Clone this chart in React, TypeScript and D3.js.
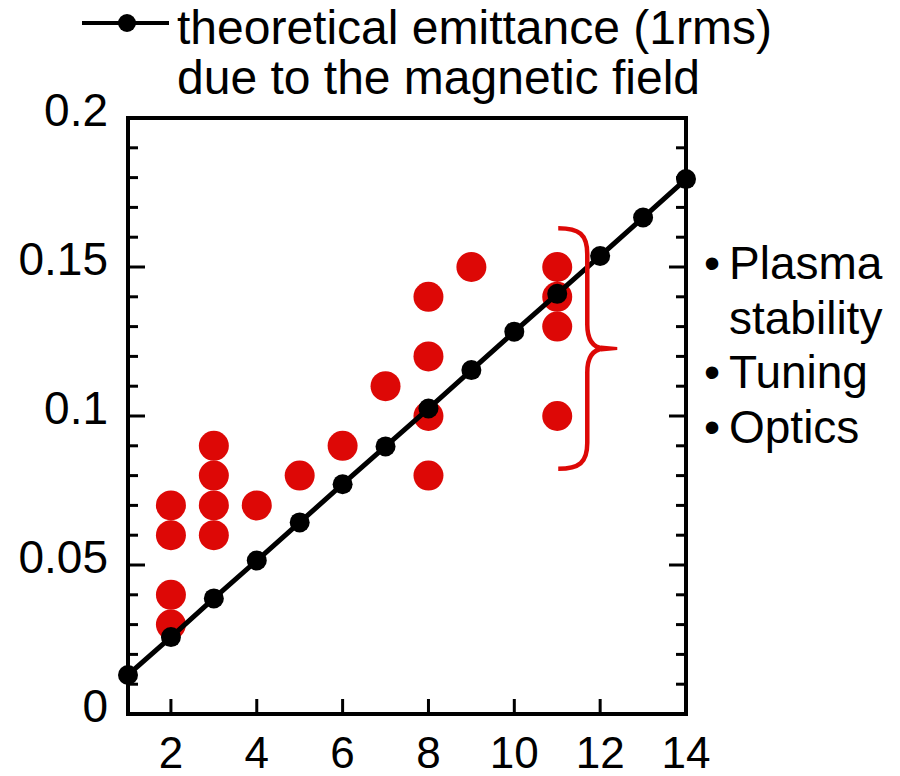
import React from "react";
import * as d3 from "d3";

const theoryX = [1, 2, 3, 4, 5, 6, 7, 8, 9, 10, 11, 12, 13, 14];
const theoryY = [0.0131, 0.0258, 0.0388, 0.0515, 0.0643, 0.0771, 0.0898, 0.1025, 0.1154, 0.1283, 0.1410, 0.1537, 0.1666, 0.1795];

const measX = [2, 2, 2, 2, 3, 3, 3, 3, 4, 5, 6, 7, 8, 8, 8, 8, 9, 11, 11, 11, 11];
const measY = [0.07, 0.06, 0.04, 0.03, 0.09, 0.08, 0.07, 0.06, 0.07, 0.08, 0.09, 0.11, 0.14, 0.12, 0.10, 0.08, 0.15, 0.15, 0.14, 0.13, 0.10];

const xTickValues = [2, 4, 6, 8, 10, 12, 14];
const yTickLabels = ["0", "0.05", "0.1", "0.15", "0.2"];
const yTickValues = [0, 0.05, 0.1, 0.15, 0.2];
const legendLines = ["theoretical emittance (1rms)", "due to the magnetic field"];
const noteItems = [
  { bullet: true, text: "Plasma" },
  { bullet: false, text: "stability" },
  { bullet: true, text: "Tuning" },
  { bullet: true, text: "Optics" },
];

const RED = "#dd0806";
const FONT = "'Liberation Sans', Arial, Helvetica, sans-serif";

export default function App() {
  const W = 900, H = 776;
  const left = 128, right = 686, top = 118, bottom = 714;
  const x = d3.scaleLinear().domain([1, 14]).range([left, right]);
  const y = d3.scaleLinear().domain([0, 0.2]).range([bottom, top]);

  const line = d3.line<number>()
    .x((_, i) => x(theoryX[i]))
    .y((d) => y(d));

  const minorY = d3.range(1, 20).map((i) => i / 100);

  // brace annotation
  const bx = x(11.7);
  const bTop = y(0.163);
  const bBot = y(0.0823);
  const bMid = (bTop + bBot) / 2;
  const bxL = x(11.0) + 1;
  const bxM = bx + 16;
  const bracePath =
    `M${bxL},${bTop} C${bx - 8},${bTop} ${bx},${bTop + 6} ${bx},${bTop + 26} ` +
    `L${bx},${bMid - 24} C${bx},${bMid - 8} ${bx + 6},${bMid - 1} ${bxM},${bMid} ` +
    `M${bxM},${bMid} C${bx + 6},${bMid + 1} ${bx},${bMid + 8} ${bx},${bMid + 24} ` +
    `L${bx},${bBot - 26} C${bx},${bBot - 6} ${bx - 8},${bBot} ${bxL},${bBot}`;

  return (
    <svg width={W} height={H} style={{ display: "block", position: "absolute", left: 0, top: 0 }} fontFamily={FONT}>
      <rect width={W} height={H} fill="#fff" />

      {/* legend */}
      <line x1={82} x2={169} y1={23} y2={23} stroke="#000" strokeWidth={4} />
      <circle cx={127} cy={23} r={9} fill="#000" />
      {legendLines.map((t, i) => (
        <text key={t} x={177} y={44 + i * 50} fontSize={48} fill="#000">{t}</text>
      ))}

      {/* red measured points */}
      {measX.map((mx, i) => (
        <circle key={"m" + i} cx={x(mx)} cy={y(measY[i])} r={15} fill={RED} />
      ))}

      {/* theory line */}
      <path d={line(theoryY) || ""} fill="none" stroke="#000" strokeWidth={5} />
      {theoryY.map((v, i) => (
        <circle key={"t" + i} cx={x(theoryX[i])} cy={y(v)} r={10} fill="#000" />
      ))}

      {/* brace */}
      <path d={bracePath} fill="none" stroke={RED} strokeWidth={4.5} strokeLinecap="butt" />
      <path d={`M${bxM - 2},${bMid - 3} L${bxM + 14},${bMid - 1.5} L${bxM + 14},${bMid + 1.5} L${bxM - 2},${bMid + 3} Z`} fill={RED} />

      {/* axes frame */}
      <rect x={left} y={top} width={right - left} height={bottom - top} fill="none" stroke="#000" strokeWidth={4} />

      {/* y ticks left & right */}
      {minorY.map((v) => {
        const major = Math.abs((v * 100) % 5) < 1e-6;
        return (
          <g key={"yt" + v}>
            <line x1={left} x2={left + (major ? 17 : 10)} y1={y(v)} y2={y(v)} stroke="#000" strokeWidth={3} />
            <line x1={right} x2={right - (major ? 17 : 10)} y1={y(v)} y2={y(v)} stroke="#000" strokeWidth={3} />
          </g>
        );
      })}

      {/* x ticks */}
      {xTickValues.slice(0, -1).map((v) => (
        <line key={"xt" + v} x1={x(v)} x2={x(v)} y1={bottom} y2={bottom - 15} stroke="#000" strokeWidth={3} />
      ))}

      {/* y labels */}
      {yTickValues.map((v, i) => (
        <text key={"yl" + v} x={108} y={y(v) + 8} fontSize={46} textAnchor="end" fill="#000">{yTickLabels[i]}</text>
      ))}

      {/* x labels */}
      {xTickValues.map((v) => (
        <text key={"xl" + v} x={x(v)} y={768} fontSize={44} textAnchor="middle" fill="#000">{String(v)}</text>
      ))}

      {/* notes */}
      {noteItems.map((n, i) => (
        <text key={n.text} y={279 + i * 54.5} fontSize={46} fill="#000">
          {n.bullet ? <tspan x={704}>•</tspan> : null}
          <tspan x={729}>{n.text}</tspan>
        </text>
      ))}
    </svg>
  );
}
